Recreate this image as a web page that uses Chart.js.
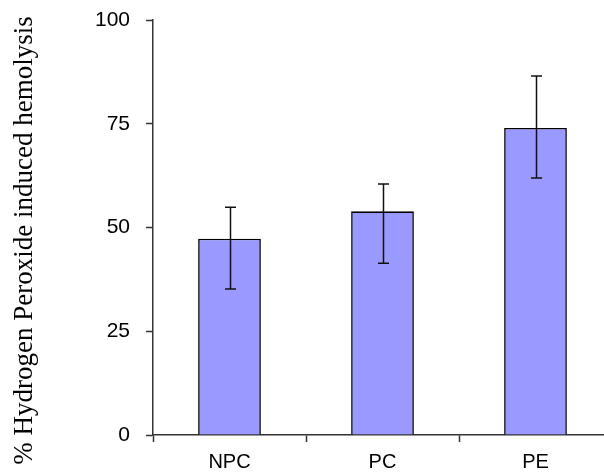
<!DOCTYPE html>
<html>
  <head>
    <meta http-equiv="Content-Type" content="text/html;charset=utf-8"/>
    <script src="https://cdn.jsdelivr.net/npm/chart.js@4/dist/chart.umd.min.js"></script>
    <style type="text/css">
    html, body {
        margin: 0;
        padding: 0;
        background: #fff;
    }
    #chart-container {
        width: 604px;
        height: 472px;
        overflow: hidden;
        position: relative;
    }
    #chart-container canvas {
        position: absolute;
        left: 0;
        top: 0;
    }
    </style>
</head>
<body>
    <div id="chart-container">
        <canvas id="chart" width="614" height="472"></canvas>
    </div>
    <script type="text/javascript">
    // values
    var categories = ["NPC", "PC", "PE"];
    var hemolysis = [47.3, 53.9, 74.0];
    var errUpper = [54.9, 60.5, 86.5];
    var errLower = [35.2, 41.4, 61.9];
    var yTicks = [0, 25, 50, 75, 100];
    var yTitle = "% Hydrogen Peroxide induced hemolysis";

    /* whiskers are drawn through the y scale, after the bars */
    var errorBars = {
        id: "errorBars",
        afterDatasetsDraw: function(chart) {
            var ctx = chart.ctx;
            var yS = chart.scales.y;
            var meta = chart.getDatasetMeta(0);
            ctx.save();
            ctx.strokeStyle = "#111";
            ctx.lineWidth = 1.5;
            meta.data.forEach(function(bar, i) {
                var x = Math.round(bar.x) + 0.5;
                var top = yS.getPixelForValue(errUpper[i]);
                var bottom = yS.getPixelForValue(errLower[i]);
                ctx.beginPath();
                ctx.moveTo(x, top);
                ctx.lineTo(x, bottom);
                ctx.moveTo(x - 5.5, top);
                ctx.lineTo(x + 5.5, top);
                ctx.moveTo(x - 5.5, bottom);
                ctx.lineTo(x + 5.5, bottom);
                ctx.stroke();
            });
            ctx.restore();
        }
    };

    // the axis title sits a little below the middle of the plot, so draw it by hand
    var axisTitle = {
        id: "axisTitle",
        afterDraw: function(chart) {
            var ctx = chart.ctx;
            var area = chart.chartArea;
            ctx.save();
            ctx.translate(25, (area.top + area.bottom) / 2 + 13);
            ctx.rotate(-Math.PI / 2);
            ctx.fillStyle = "#000";
            ctx.font = "27px 'Liberation Serif', 'Times New Roman', serif";
            ctx.textAlign = "center";
            ctx.textBaseline = "middle";
            ctx.fillText(yTitle, 0, 0);
            ctx.restore();
        }
    };

    new Chart(document.getElementById("chart"), {
        type: "bar",
        data: {
            labels: categories,
            datasets: [{
                data: hemolysis,
                backgroundColor: "#9999FF",
                borderColor: "#000",
                borderWidth: 1.6,
                barPercentage: 0.41,
                categoryPercentage: 1
            }]
        },
        options: {
            responsive: false,
            animation: false,
            layout: { padding: { top: 20, right: 2, left: 0, bottom: 0 } },
            plugins: {
                legend: { display: false },
                tooltip: { enabled: false }
            },
            scales: {
                x: {
                    afterFit: function(scale) { scale.height = 37; },
                    grid: {
                        drawOnChartArea: false,
                        tickLength: 7,
                        tickColor: "#333",
                        tickWidth: 1.5
                    },
                    border: { color: "#333", width: 1.5 },
                    ticks: {
                        color: "#000",
                        padding: 8,
                        font: { family: "Liberation Sans, Arial", size: 20 }
                    }
                },
                y: {
                    min: 0,
                    max: 100,
                    afterFit: function(scale) {
                        scale.width = 153;
                        scale.paddingTop = 0;
                        scale.paddingBottom = 0;
                    },
                    afterBuildTicks: function(scale) {
                        scale.ticks = yTicks.map(function(v) { return { value: v }; });
                    },
                    grid: {
                        drawOnChartArea: false,
                        tickLength: 7,
                        tickColor: "#333",
                        tickWidth: 1.5
                    },
                    border: { color: "#333", width: 1.5 },
                    ticks: {
                        color: "#000",
                        padding: 16,
                        font: { family: "Liberation Sans, Arial", size: 21 }
                    }
                }
            }
        },
        plugins: [errorBars, axisTitle]
    });
    </script>
  </body>
</html>
